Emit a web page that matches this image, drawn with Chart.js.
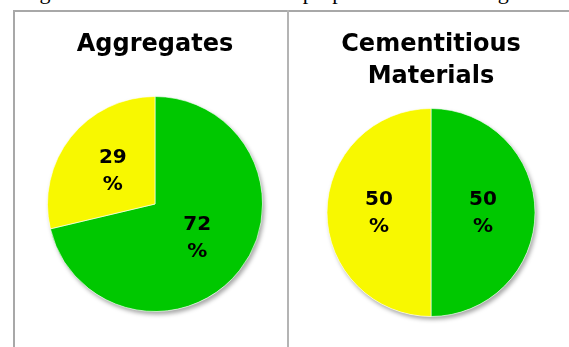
<!DOCTYPE html>
<html>
<head>
<meta charset="utf-8">
<script src="https://cdn.jsdelivr.net/npm/chart.js@4"></script>
<style>
  body { margin: 0; background: #fff; width: 569px; height: 347px; overflow: hidden; position: relative; }
  .caption { position: absolute; left: -2px; top: -19px; font-family: "Liberation Serif"; font-size: 22px; line-height: 22px; white-space: nowrap; color: #000; }
  .rule { position: absolute; background: #a8a8a8; }
  .rule-top { left: 13px; top: 10px; width: 556px; height: 2px; }
  .rule-left { left: 13px; top: 10px; width: 2px; height: 337px; }
  .rule-mid { left: 287px; top: 10px; width: 2px; height: 337px; background: #b4b4b4; }
  .panel { position: absolute; top: 12px; height: 335px; }
  #aggBox { left: 15px; width: 272px; }
  #cemBox { left: 289px; width: 280px; }
</style>
</head>
<body>
<div class="caption">Using the recommended total mix proportions for the slag</div>
<div class="rule rule-top"></div>
<div class="rule rule-left"></div>
<div class="rule rule-mid"></div>
<div class="panel" id="aggBox"><canvas id="aggregatesPie"></canvas></div>
<div class="panel" id="cemBox"><canvas id="cementitiousPie"></canvas></div>

<script>
// slice order: green first (clockwise from 12 o'clock), then yellow
var categories = ['green', 'yellow'];
var sliceColors = ['#00c800', '#f8f800'];

var aggregatesTitle = ['Aggregates'];
var aggregatesValues = [72, 29];

var cementitiousTitle = ['Cementitious', 'Materials'];
var cementitiousValues = [50, 50];

Chart.defaults.font.family = '"DejaVu Sans"';

// soft grey drop shadow behind the whole pie
var pieShadow = {
  id: 'pieShadow',
  beforeDatasetsDraw: function(chart) {
    var arc = chart.getDatasetMeta(0).data[0];
    if (!arc) return;
    var ctx = chart.ctx;
    ctx.save();
    ctx.shadowColor = 'rgba(0,0,0,0.35)';
    ctx.shadowBlur = 4;
    ctx.shadowOffsetX = 2;
    ctx.shadowOffsetY = 3;
    ctx.fillStyle = '#fff';
    ctx.beginPath();
    ctx.arc(arc.x, arc.y, arc.outerRadius, 0, Math.PI * 2);
    ctx.fill();
    ctx.restore();
  }
};

// "72" over "%" in the middle of each slice
var sliceLabels = {
  id: 'sliceLabels',
  afterDatasetsDraw: function(chart) {
    var ctx = chart.ctx;
    var values = chart.data.datasets[0].data;
    ctx.save();
    ctx.font = 'bold 20px "DejaVu Sans"';
    ctx.fillStyle = '#000';
    ctx.textAlign = 'center';
    ctx.textBaseline = 'middle';
    chart.getDatasetMeta(0).data.forEach(function(arc, i) {
      var p = arc.tooltipPosition();
      ctx.fillText(String(values[i]), p.x, p.y - 13);
      ctx.fillText('%', p.x, p.y + 14);
    });
    ctx.restore();
  }
};

function renderPie(canvas_id, title, values, titleLineHeight, titlePadding, padding) {
  return new Chart(document.getElementById(canvas_id), {
    type: 'pie',
    data: {
      labels: categories,
      datasets: [{
        data: values,
        backgroundColor: sliceColors,
        borderColor: 'rgba(255,255,255,0.6)',
        borderWidth: 1
      }]
    },
    options: {
      responsive: true,
      maintainAspectRatio: false,
      animation: false,
      layout: { padding: padding },
      plugins: {
        legend: { display: false },
        tooltip: { enabled: false },
        title: {
          display: true,
          text: title,
          color: '#000',
          font: { size: 24, weight: 'bold', lineHeight: titleLineHeight },
          padding: titlePadding
        }
      }
    },
    plugins: [pieShadow, sliceLabels]
  });
}

renderPie('aggregatesPie', aggregatesTitle, aggregatesValues, 1.2,
  { top: 18.8, bottom: 36.4 }, { left: 32, right: 24, top: 0, bottom: 35 });
renderPie('cementitiousPie', cementitiousTitle, cementitiousValues, 32 / 24,
  { top: 17, bottom: 15 }, { left: 37.5, right: 33.5, top: 0, bottom: 30 });
</script>
</body>
</html>
